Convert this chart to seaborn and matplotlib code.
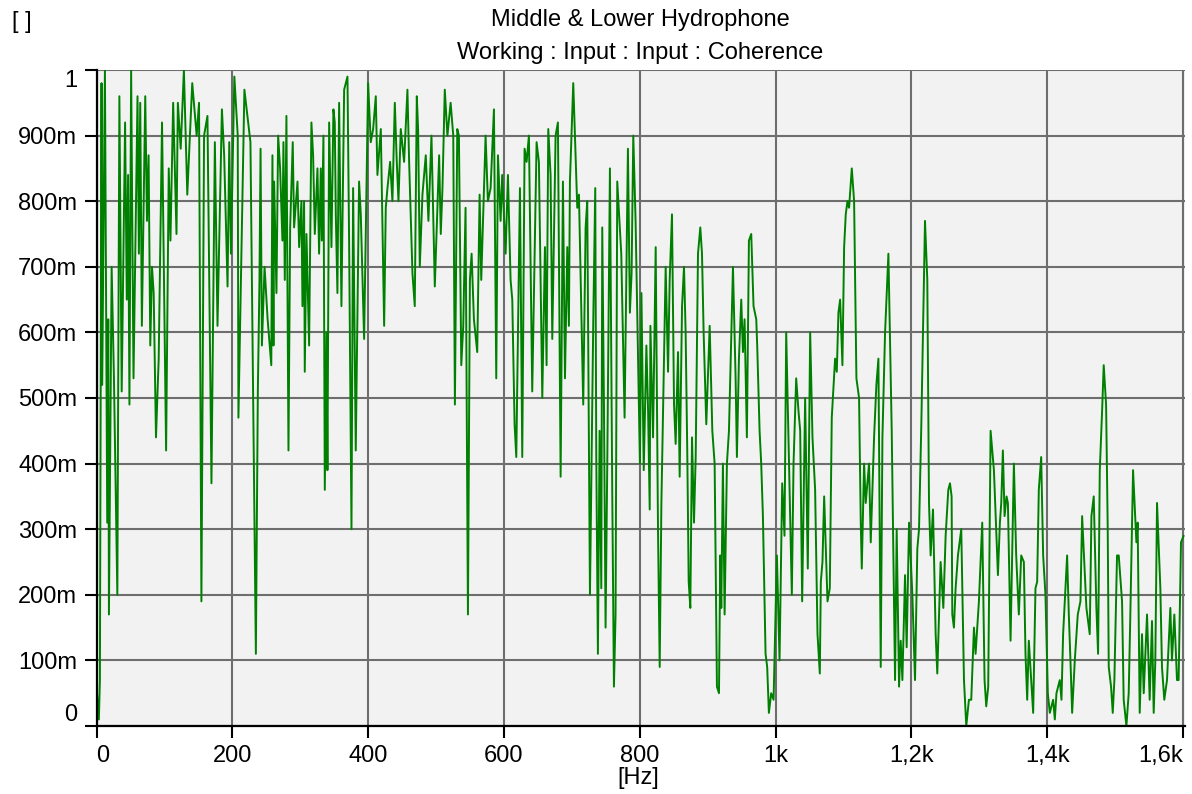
import numpy as np
import pandas as pd
import matplotlib
matplotlib.use("Agg")
import matplotlib.pyplot as plt
import seaborn as sns

# Coherence (middle vs lower hydrophone), split in bands
# 0 - 260 Hz
band1_hz = [0, 3.5, 5, 7.4, 8.4, 12.4, 15.8, 17.3, 18.3, 22.3, 25.7, 30.7, 33.7, 37.1, 42.1,
            44.6, 46.5, 48.5, 51, 54.5, 60.4, 62.4, 64.4, 66.8, 71.8, 74.3, 76.7, 79.2, 81.7, 84.2,
            87.6, 91.6, 96.5, 102.5, 106.4, 108.9, 112.9, 117.8, 119.8, 124, 128.7, 133.7, 141, 147.5, 151,
            154.5, 158.4, 163.4, 169.3, 174.3, 178.2, 184.7, 188, 193, 195.5, 198, 203, 208, 209, 217.8,
            226.7, 234.7, 237.6, 240, 241.6, 243.6, 247.5, 252, 257.4]
band1_coh = [0.06, 0.01, 0.07, 0.98, 0.52, 1.0, 0.31, 0.62, 0.17, 0.70, 0.53, 0.20, 0.96, 0.51, 0.92,
             0.65, 0.84, 0.49, 1.0, 0.53, 0.96, 0.72, 0.95, 0.61, 0.96, 0.77, 0.87, 0.58, 0.70, 0.66,
             0.44, 0.56, 0.92, 0.42, 0.85, 0.74, 0.95, 0.75, 0.95, 0.88, 1.0, 0.81, 0.98, 0.90, 0.95,
             0.19, 0.90, 0.93, 0.37, 0.89, 0.61, 0.94, 0.87, 0.67, 0.89, 0.72, 0.99, 0.90, 0.47, 0.97,
             0.89, 0.11, 0.51, 0.68, 0.88, 0.58, 0.70, 0.62, 0.55]

# 260 - 520 Hz
band2_hz = [259.1, 260.6, 261.6, 265, 267.5, 270.4, 273.8, 275.3, 277.3, 279.7, 282.7, 285.2, 289, 291, 296,
            298.4, 301.8, 303.3, 305.7, 306.7, 309.2, 313.1, 316.5, 319, 321.5, 325.4, 327.8, 330.3, 331.8, 334.2,
            336.2, 338.6, 340.1, 342.6, 346, 348.9, 350.9, 352.4, 354.8, 357.3, 360.7, 364.7, 369.6, 372, 375.5,
            377.9, 381.8, 386.7, 389.2, 394.1, 400, 403.9, 407.4, 411.3, 413.7, 418.7, 423.6, 426, 428.5, 432.4,
            435.8, 439.3, 442.2, 444.7, 448.1, 453, 457.9, 460.4, 465.3, 468.7, 471.7, 473.6, 476.1, 480, 484.9,
            488.8, 493.3, 498.2, 504.6, 507, 509.5, 512.9, 516.8]
band2_coh = [0.87, 0.58, 0.83, 0.66, 0.90, 0.85, 0.74, 0.89, 0.68, 0.93, 0.42, 0.76, 0.89, 0.76, 0.83,
             0.73, 0.80, 0.64, 0.80, 0.54, 0.75, 0.58, 0.92, 0.87, 0.75, 0.85, 0.72, 0.85, 0.74, 0.90,
             0.36, 0.60, 0.39, 0.92, 0.73, 0.94, 0.92, 0.78, 0.66, 0.95, 0.64, 0.97, 0.99, 0.74, 0.30,
             0.82, 0.42, 0.83, 0.78, 0.59, 0.98, 0.89, 0.91, 0.96, 0.84, 0.91, 0.61, 0.79, 0.82, 0.86,
             0.80, 0.95, 0.86, 0.80, 0.91, 0.86, 0.97, 0.86, 0.69, 0.64, 0.96, 0.91, 0.70, 0.81, 0.87,
             0.77, 0.90, 0.67, 0.87, 0.75, 0.82, 0.97, 0.90]

# 520 - 800 Hz
band3_hz = [521.5, 525.4, 527.8, 531.3, 533.7, 537.2, 540.1, 543.5, 547, 549.9, 552.4, 555.8, 560.7, 564.2, 566.6,
            573, 576.4, 580.4, 585.3, 588.7, 591.2, 595.1, 597.5, 602.5, 605.9, 609.8, 612.3, 615.7, 618.2, 623.6,
            627, 630.4, 633.4, 636.8, 641.7, 648.1, 651.5, 656.5, 660.4, 662.8, 665.3, 668.7, 671.2, 676.1, 679.5,
            683.5, 686.9, 689.9, 693.3, 695.7, 697.2, 702.1, 708, 710.5, 716.8, 720.3, 722.7, 726.7, 731.6, 734.5,
            736, 738.4, 740.9, 743.4, 744.8, 747.3, 749.7, 752.2, 756.1, 759.5, 762, 764.4, 766.9, 772.8, 777.7,
            782.6, 785.5, 788, 790.5, 793.9, 800.3]
band3_coh = [0.95, 0.90, 0.49, 0.91, 0.90, 0.55, 0.61, 0.79, 0.17, 0.68, 0.72, 0.62, 0.57, 0.81, 0.68,
             0.90, 0.80, 0.82, 0.94, 0.53, 0.87, 0.77, 0.84, 0.72, 0.84, 0.68, 0.65, 0.46, 0.41, 0.82,
             0.41, 0.88, 0.86, 0.90, 0.51, 0.89, 0.86, 0.50, 0.73, 0.55, 0.91, 0.84, 0.59, 0.90, 0.92,
             0.38, 0.83, 0.53, 0.73, 0.61, 0.83, 0.98, 0.79, 0.81, 0.49, 0.76, 0.80, 0.20, 0.62, 0.82,
             0.41, 0.11, 0.45, 0.21, 0.76, 0.49, 0.15, 0.40, 0.85, 0.36, 0.06, 0.17, 0.83, 0.72, 0.47,
             0.88, 0.63, 0.69, 0.90, 0.77, 0.40]

# 800 - 1050 Hz
band4_hz = [802.5, 805.9, 809.8, 812.3, 814.7, 815.7, 819.6, 823.5, 826.9, 829.4, 831.9, 834.3, 838.2, 841.7, 844.1,
            847.5, 850.5, 852.9, 856.4, 858.8, 862.3, 865.2, 867.6, 870.1, 872.1, 874.5, 877, 879.9, 882.4, 885.8,
            889.2, 891.7, 894.1, 898, 903, 906.9, 910.3, 913.7, 916.7, 918.6, 920.1, 922.5, 925, 928.4, 931.4,
            937.3, 941.2, 943.1, 946.1, 949.5, 952, 954.4, 957.8, 960.8, 964.2, 967.6, 971.6, 973, 976.5, 978.9,
            981.4, 985.3, 987.7, 990.2, 993.6, 997.1, 1002, 1005.9, 1009.8, 1013.2, 1015.7, 1019.6, 1024, 1026.5, 1030.4,
            1033.8, 1036.3, 1039.2, 1043.6, 1047.5, 1051]
band4_coh = [0.66, 0.39, 0.58, 0.48, 0.33, 0.61, 0.44, 0.73, 0.30, 0.09, 0.34, 0.48, 0.70, 0.54, 0.68,
             0.78, 0.49, 0.43, 0.57, 0.38, 0.64, 0.70, 0.60, 0.41, 0.22, 0.18, 0.44, 0.31, 0.41, 0.72,
             0.76, 0.72, 0.60, 0.46, 0.61, 0.45, 0.40, 0.06, 0.05, 0.26, 0.18, 0.40, 0.17, 0.40, 0.45,
             0.70, 0.53, 0.41, 0.56, 0.65, 0.57, 0.62, 0.44, 0.74, 0.75, 0.64, 0.62, 0.58, 0.45, 0.40,
             0.32, 0.11, 0.09, 0.02, 0.05, 0.04, 0.26, 0.10, 0.37, 0.29, 0.60, 0.41, 0.20, 0.40, 0.53,
             0.48, 0.45, 0.19, 0.50, 0.24, 0.60]

# 1050 - 1320 Hz
band5_hz = [1054.4, 1058.3, 1061.8, 1065.2, 1066.7, 1069.1, 1071.6, 1076.5, 1079.9, 1082.8, 1087.7, 1090.2, 1092.6, 1095.1, 1098.5,
            1101, 1103.4, 1105.9, 1108.3, 1112.3, 1115.7, 1119.1, 1123, 1125.5, 1127, 1130.4, 1132.8, 1137.7, 1140.2, 1145.1,
            1148.5, 1151.5, 1154.9, 1157.4, 1161.3, 1166.2, 1171.1, 1176, 1178.4, 1181.9, 1184.3, 1186.8, 1190.7, 1193.1, 1196.6,
            1201.5, 1205.4, 1208.8, 1211.3, 1214.7, 1220.1, 1223.5, 1226, 1228.4, 1231.9, 1235.8, 1238.2, 1243.1, 1247.1, 1250.5,
            1254.4, 1256.9, 1259.3, 1260.3, 1262.7, 1265.2, 1268.6, 1273.5, 1277.5, 1280.9, 1284.8, 1288.2, 1292.2, 1294.6, 1299.5,
            1304.4, 1307.8, 1310.3, 1313.2, 1316.7]
band5_coh = [0.44, 0.36, 0.14, 0.08, 0.22, 0.25, 0.35, 0.19, 0.21, 0.47, 0.56, 0.54, 0.63, 0.65, 0.55,
             0.73, 0.78, 0.80, 0.79, 0.85, 0.80, 0.53, 0.50, 0.31, 0.24, 0.40, 0.34, 0.40, 0.28, 0.44,
             0.52, 0.56, 0.09, 0.44, 0.60, 0.72, 0.45, 0.07, 0.30, 0.06, 0.13, 0.07, 0.23, 0.12, 0.31,
             0.20, 0.07, 0.27, 0.30, 0.46, 0.77, 0.68, 0.34, 0.26, 0.33, 0.14, 0.08, 0.25, 0.18, 0.29,
             0.36, 0.37, 0.35, 0.17, 0.15, 0.21, 0.26, 0.30, 0.07, 0.00, 0.04, 0.04, 0.15, 0.11, 0.19,
             0.31, 0.07, 0.03, 0.06, 0.45]

# 1320 - 1600 Hz
band6_hz = [1321.6, 1327.5, 1330.4, 1332.4, 1334.8, 1337.3, 1340.2, 1342.2, 1346.1, 1351, 1354.4, 1358.3, 1361.8, 1365.7, 1368.1,
            1370.6, 1373, 1379.4, 1382.8, 1385.3, 1387.7, 1391.2, 1394.1, 1397.5, 1401, 1403.9, 1408.8, 1411.3, 1413.7, 1418.6,
            1421.1, 1423.5, 1429.4, 1431.9, 1434.3, 1436.8, 1440.7, 1445.1, 1449, 1451.5, 1457.8, 1462.7, 1465.2, 1468.6, 1472.5,
            1475, 1477.5, 1480.9, 1483.3, 1486.8, 1489.2, 1490.7, 1494.1, 1496.6, 1499, 1502.9, 1505.4, 1510.3, 1512.7, 1516.7,
            1520.1, 1522.5, 1526.5, 1531.4, 1533.3, 1536.3, 1539.7, 1542.2, 1547.1, 1551, 1554.4, 1556.9, 1559.3, 1561.8, 1566.7,
            1569.1, 1572.5, 1576.5, 1581.4, 1583.8, 1587.3, 1591.2, 1593.6, 1597.1, 1601]
band6_coh = [0.39, 0.23, 0.31, 0.34, 0.42, 0.32, 0.35, 0.34, 0.13, 0.40, 0.26, 0.17, 0.26, 0.25, 0.11,
             0.04, 0.13, 0.02, 0.21, 0.22, 0.36, 0.41, 0.26, 0.20, 0.05, 0.02, 0.04, 0.01, 0.05, 0.07,
             0.04, 0.14, 0.26, 0.17, 0.10, 0.02, 0.10, 0.17, 0.19, 0.32, 0.18, 0.14, 0.32, 0.35, 0.18,
             0.11, 0.39, 0.48, 0.55, 0.49, 0.30, 0.09, 0.06, 0.02, 0.07, 0.26, 0.26, 0.19, 0.04, 0.00,
             0.05, 0.17, 0.39, 0.28, 0.31, 0.02, 0.14, 0.05, 0.17, 0.04, 0.16, 0.02, 0.10, 0.34, 0.21,
             0.09, 0.04, 0.07, 0.18, 0.10, 0.17, 0.07, 0.07, 0.28, 0.29]

x_ticks = [0, 200, 400, 600, 800, 1000, 1200, 1400, 1600]
x_tick_labels = ["0", "200", "400", "600", "800", "1k", "1,2k", "1,4k", "1,6k"]
y_ticks = [0, 0.1, 0.2, 0.3, 0.4, 0.5, 0.6, 0.7, 0.8, 0.9, 1.0]
y_tick_labels = ["0", "100m", "200m", "300m", "400m", "500m", "600m", "700m", "800m", "900m", "1"]

# one frame for the whole trace
df = pd.DataFrame({
    "Hz": band1_hz + band2_hz + band3_hz + band4_hz + band5_hz + band6_hz,
    "Coherence": band1_coh + band2_coh + band3_coh + band4_coh + band5_coh + band6_coh,
})

sns.set_theme(style="ticks")
plt.rcParams["font.family"] = ["Liberation Sans", "DejaVu Sans"]
plt.rcParams["text.color"] = "black"

W, H = 1192, 794
fig = plt.figure(figsize=(W / 100, H / 100), dpi=100)
ax = fig.add_axes([96.5 / W, 1 - 726 / H, (1185 - 96.5) / W, (726 - 70) / H])

sns.lineplot(data=df, x="Hz", y="Coherence", ax=ax, color="#008000",
             linewidth=1.4, sort=False, estimator=None)

ax.set_facecolor("#f2f2f2")
ax.set_xlim(0, 1603)
ax.set_ylim(0, 1.0)
ax.set_axisbelow(True)
ax.grid(True, color="#6e6e6e", linewidth=1.5)

for side in ["top", "right"]:
    ax.spines[side].set_visible(False)
for side in ["left", "bottom"]:
    ax.spines[side].set_color("black")
    ax.spines[side].set_linewidth(1.6)

ax.set_xticks(x_ticks)
ax.set_xticklabels(x_tick_labels)
ax.set_yticks(y_ticks)
ax.set_yticklabels(y_tick_labels)
ax.tick_params(direction="out", length=8.5, width=1.5, color="black",
               labelsize=17, labelcolor="black")
ax.tick_params(axis="y", pad=5.5)
ax.tick_params(axis="x", pad=5)
ax.set_xlabel("")
ax.set_ylabel("")

# edge labels are pushed inside like in the original software
ylabs = ax.get_yticklabels()
ylabs[0].set_va("bottom")
ylabs[-1].set_va("top")
xlabs = ax.get_xticklabels()
xlabs[0].set_ha("left")
xlabs[-1].set_ha("right")

fig.text(640 / W, 1 - 20 / H, "Middle & Lower Hydrophone", ha="center", va="center",
         fontsize=17, color="black")
fig.text(640 / W, 1 - 53 / H, "Working : Input : Input : Coherence", ha="center", va="center",
         fontsize=17, color="black")
fig.text(12 / W, 1 - 22 / H, "[ ]", ha="left", va="center", fontsize=17, color="black")
fig.text(638 / W, 1 - 778 / H, "[Hz]", ha="center", va="center", fontsize=17, color="black")

plt.savefig("out.png", dpi=100)
